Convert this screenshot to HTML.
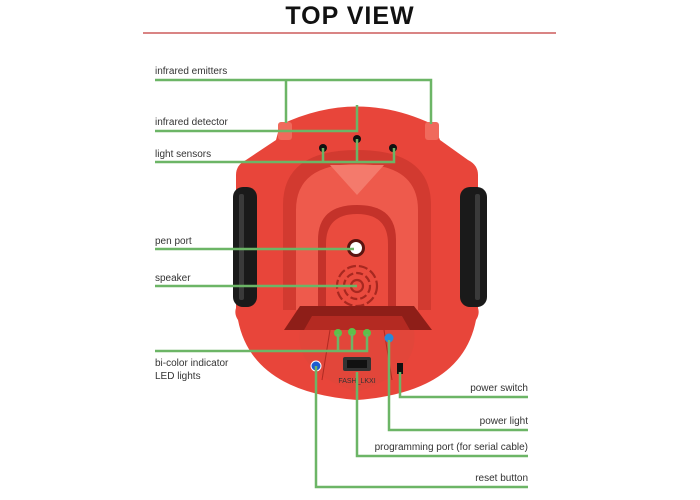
<!DOCTYPE html>
<html><head><style>
html,body{margin:0;padding:0;background:#fff;}
svg{display:block;}
text{font-family:"Liberation Sans",sans-serif;font-size:10px;fill:#333;}
</style></head><body>
<svg width="700" height="500" viewBox="0 0 700 500">
<text x="350" y="24" text-anchor="middle" style="font-size:25px;font-weight:bold;fill:#111;letter-spacing:1px;">TOP VIEW</text>
<line x1="143" y1="33" x2="556" y2="33" stroke="#c23a3a" stroke-width="1.2"/>

<!-- body -->
<path d="M280,125 Q357,88 434,125 L440,140 L468,160 Q478,165 478,175 L478,308 Q480,314 476,320 Q462,392 357,400 Q252,392 238,320 Q234,314 236,308 L236,175 Q236,165 246,160 L276,140 Z" fill="#e8453a"/>
<!-- wheels -->
<rect x="233" y="187" width="24" height="120" rx="10" fill="#1a1a1a"/>
<rect x="460" y="187" width="27" height="120" rx="10" fill="#1a1a1a"/>
<rect x="239" y="194" width="5" height="106" rx="2" fill="#3a3a3a"/>
<rect x="475" y="194" width="5" height="106" rx="2" fill="#3a3a3a"/>
<!-- inner arch channel -->
<path d="M283,310 L283,205 Q283,150 357,150 Q431,150 431,205 L431,310 Z" fill="#d23a30"/>
<path d="M296,310 L296,210 Q296,164 357,164 Q418,164 418,210 L418,310 Z" fill="#ee5a4c"/>
<path d="M330,165 L357,195 L384,165 Z" fill="#f47a6c"/>
<!-- pen arch -->
<path d="M318,310 L318,240 Q318,205 357,205 Q396,205 396,240 L396,310 Z" fill="#c4322a"/>
<path d="M326,310 L326,244 Q326,214 357,214 Q388,214 388,244 L388,310 Z" fill="#ea4b3e"/>
<circle cx="356" cy="248" r="9" fill="#5a1410"/>
<circle cx="356" cy="248" r="6" fill="#fff"/>
<g fill="none" stroke="#a82820" stroke-width="2.2">
<circle cx="357" cy="286" r="20" stroke-dasharray="9 3"/>
<circle cx="357" cy="286" r="13" stroke-dasharray="7 3"/>
<circle cx="357" cy="286" r="6"/>
</g>
<!-- bottom channel -->
<path d="M300,306 L414,306 L432,330 L284,330 Z" fill="#8e1e18"/>
<path d="M312,316 L402,316 L410,330 L304,330 Z" fill="#b42a22"/>
<path d="M300,330 L414,330 Q420,372 357,392 Q294,372 300,330 Z" fill="#e2463a"/>
<line x1="330" y1="330" x2="322" y2="380" stroke="#b02a22"/>
<line x1="384" y1="330" x2="392" y2="380" stroke="#b02a22"/>
<rect x="278" y="122" width="14" height="18" rx="3" fill="#f06a5c"/>
<rect x="425" y="122" width="14" height="18" rx="3" fill="#f06a5c"/>
<circle cx="323" cy="148" r="4" fill="#111"/>
<circle cx="357" cy="139" r="4" fill="#111"/>
<circle cx="393" cy="148" r="4" fill="#111"/>
<circle cx="338" cy="333" r="4" fill="#5fc04a"/>
<circle cx="352" cy="332" r="4" fill="#5fc04a"/>
<circle cx="367" cy="333" r="4" fill="#5fc04a"/>
<circle cx="389" cy="338" r="4.5" fill="#2a8ad8"/>
<circle cx="316" cy="366" r="5" fill="#1f5bd0" stroke="#fff" stroke-width="1"/>
<rect x="343" y="357" width="28" height="14" rx="2" fill="#333"/>
<rect x="347" y="360" width="20" height="8" fill="#111"/>
<text x="357" y="383" text-anchor="middle" style="font-size:7px;fill:#333;">FASH_LKXI</text>
<rect x="397" y="363" width="6" height="11" fill="#111"/>

<g fill="none" stroke="#6cb566" stroke-width="2.5">
<path d="M155,80 L431,80 L431,124 M286,80 L286,123"/>
<path d="M155,131 L357,131 L357,105"/>
<path d="M155,162 L394,162 L394,148 M323,148 L323,162 M357,139 L357,162"/>
<path d="M155,249 L354,249"/>
<path d="M155,286 L357,286"/>
<path d="M155,351 L367,351 L367,334 M338,334 L338,351 M352,334 L352,351"/>
<path d="M400,372 L400,397 L528,397"/>
<path d="M389,340 L389,430 L528,430"/>
<path d="M357,372 L357,456 L528,456"/>
<path d="M316,366 L316,487 L528,487"/>
</g>

<text x="155" y="74">infrared emitters</text>
<text x="155" y="125">infrared detector</text>
<text x="155" y="157">light sensors</text>
<text x="155" y="244">pen port</text>
<text x="155" y="281">speaker</text>
<text x="155" y="366">bi-color indicator</text>
<text x="155" y="379">LED lights</text>
<text x="528" y="391" text-anchor="end">power switch</text>
<text x="528" y="424" text-anchor="end">power light</text>
<text x="528" y="450" text-anchor="end">programming port (for serial cable)</text>
<text x="528" y="481" text-anchor="end">reset button</text>
</svg>
</body></html>
